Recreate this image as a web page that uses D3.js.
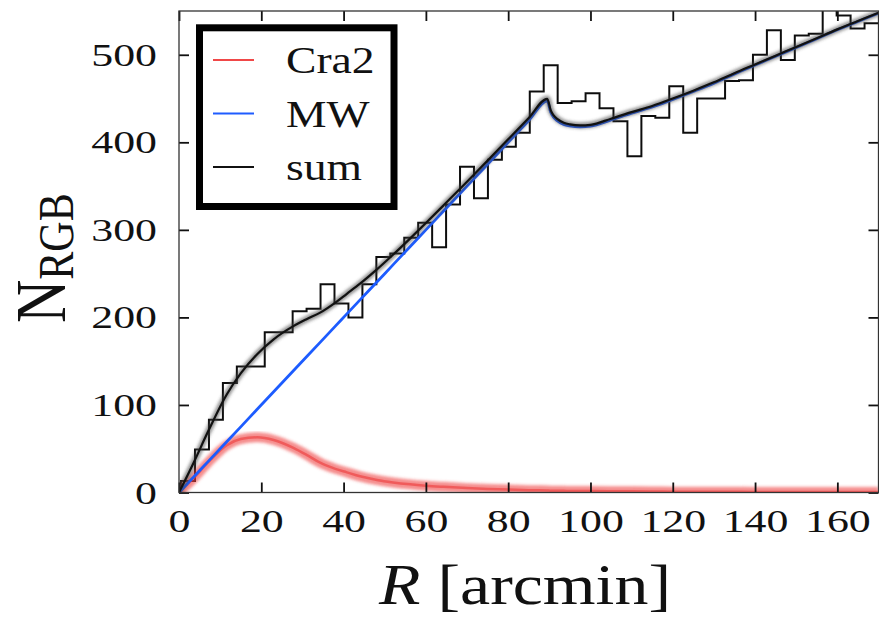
<!DOCTYPE html>
<html>
<head>
<meta charset="utf-8">
<script src="https://cdn.jsdelivr.net/npm/d3@7"></script>
<style>
  body { margin: 0; background: #fff; }
  svg { display: block; }
  text { font-family: "Liberation Serif", "Times New Roman", serif; fill: #111; }
</style>
</head>
<body>
<svg id="chart" width="879" height="620"></svg>
<script>
// Radial counts of RGB candidates: histogram plus model components
const binStart = 0.5;
const binWidth = 3.39;
const histCounts = [
  13, 49, 83, 125, 144, 144, 183, 183, 207, 210,
  238, 216, 200, 238, 269, 273, 291, 308, 280, 329,
  372, 336, 380, 395, 411, 458, 488, 445, 447, 456,
  439, 424, 384, 430, 428, 464, 411, 450, 450, 470,
  471, 500, 528, 494, 522, 524, 565, 545, 530, 536
];

// Model curves sampled in radius (arcmin)
const radius = [
  0, 3.5, 7, 11.6, 15, 19, 23, 27.8, 31, 34.3,
  38, 40.8, 44, 48.1, 52, 56.2, 60, 64.3, 70, 75,
  80, 85, 89.5, 90.3, 91, 92, 93.5, 95, 97.5, 100,
  105, 110, 115, 120, 125, 130, 135, 140, 145, 150,
  155, 160, 165, 170
];
const mwModel = [
  0, 17.5, 35, 58, 75, 95, 115, 139, 155, 171.5,
  190, 204, 220, 240.5, 260, 281, 300, 321.5, 350, 375,
  400, 425, 447.5, 435, 429, 424.5, 420.5, 418.7, 417.6, 418.4,
  425.6, 433.2, 440.3, 449, 458.1, 467.6, 478.2, 488.3, 498.3, 508.4,
  518.4, 528.5, 538, 547.5
];
const cra2Model = [
  0, 16, 34, 54, 61, 63, 60, 51, 43, 34,
  27, 23, 18.5, 14.3, 11.5, 9.3, 7.8, 6.5, 5, 4.1,
  3.4, 2.7, 2.2, 2.1, 2.1, 2, 1.9, 1.8, 1.7, 1.6,
  1.4, 1.3, 1.2, 1, 0.9, 0.9, 0.8, 0.7, 0.7, 0.6,
  0.6, 0.5, 0.5, 0.5
];
const sumModel = mwModel.map((v, i) => v + cra2Model[i]);

const xTicks = [0, 20, 40, 60, 80, 100, 120, 140, 160];
const yTicks = [0, 100, 200, 300, 400, 500];
const legendLabels = ["Cra2", "MW", "sum"];
const legendColors = ["#f04848", "#1f5cff", "#111111"];

const svg = d3.select("#chart");
const plot = { left: 179, right: 878.5, top: 11, bottom: 492.5 };

const x = d3.scaleLinear().domain([0, 170]).range([plot.left, plot.right]);
const y = d3.scaleLinear().domain([0, 550]).range([plot.bottom, plot.top]);

const defs = svg.append("defs");
defs.append("clipPath").attr("id", "plot-clip")
  .append("rect")
  .attr("x", plot.left).attr("y", plot.top)
  .attr("width", plot.right - plot.left).attr("height", plot.bottom - plot.top);
defs.append("filter").attr("id", "soft").attr("x", "-10%").attr("y", "-10%")
  .attr("width", "120%").attr("height", "120%")
  .append("feGaussianBlur").attr("stdDeviation", 1.5);
defs.append("filter").attr("id", "softer")
  .append("feGaussianBlur").attr("stdDeviation", 0.6);

const body = svg.append("g").attr("clip-path", "url(#plot-clip)");

// histogram as a step outline
const histPts = [[binStart, 0]];
histCounts.forEach((c, i) => histPts.push([binStart + i * binWidth, c]));
histPts.push([binStart + histCounts.length * binWidth, histCounts[histCounts.length - 1]]);
const stepLine = d3.line().x(d => x(d[0])).y(d => y(d[1])).curve(d3.curveStepAfter);
body.append("path")
  .attr("d", stepLine(histPts))
  .attr("fill", "none").attr("stroke", "#111").attr("stroke-width", 2)
  .attr("filter", "url(#softer)");

const curve = vals => d3.line()
  .x((d, i) => x(radius[i]))
  .y(d => y(d))
  .curve(d3.curveMonotoneX)(vals);

// Cra2 component with its uncertainty band
body.append("path").attr("d", curve(cra2Model))
  .attr("fill", "none").attr("stroke", "#ee4040").attr("stroke-opacity", 0.6)
  .attr("stroke-width", 10).attr("filter", "url(#soft)");
body.append("path").attr("d", curve(cra2Model))
  .attr("fill", "none").attr("stroke", "#ec3a3a").attr("stroke-opacity", 0.6)
  .attr("stroke-width", 2.5);

// Milky Way foreground
body.append("path").attr("d", curve(mwModel))
  .attr("fill", "none").attr("stroke", "#1f5cff").attr("stroke-width", 2.8)
  .attr("filter", "url(#softer)");

// total model with band
body.append("path").attr("d", curve(sumModel))
  .attr("fill", "none").attr("stroke", "#444").attr("stroke-opacity", 0.55)
  .attr("stroke-width", 6.5).attr("filter", "url(#soft)");
body.append("path").attr("d", curve(sumModel))
  .attr("fill", "none").attr("stroke", "#111").attr("stroke-width", 2.2);

// ticks on all four sides, pointing inward
const tickStyle = g => {
  g.select(".domain").remove();
  g.selectAll(".tick line").attr("stroke", "#111").attr("stroke-width", 1.8);
};
const tickScale = 1.37;

svg.append("g").attr("transform", `translate(0,${plot.bottom})`)
  .call(d3.axisBottom(x).tickValues(xTicks).tickSizeInner(-10).tickSizeOuter(0))
  .call(tickStyle)
  .call(g => g.selectAll(".tick text")
    .attr("y", 0).attr("dy", null)
    .attr("transform", `translate(0,39) scale(${tickScale},1)`)
    .attr("font-size", 32).attr("fill", "#111"));

svg.append("g").attr("transform", `translate(0,${plot.top})`)
  .call(d3.axisTop(x).tickValues(xTicks).tickSizeInner(-10).tickSizeOuter(0).tickFormat(""))
  .call(tickStyle);

svg.append("g").attr("transform", `translate(${plot.left},0)`)
  .call(d3.axisLeft(y).tickValues(yTicks).tickSizeInner(-10).tickSizeOuter(0))
  .call(tickStyle)
  .call(g => g.selectAll(".tick text")
    .attr("x", 0).attr("dy", "0.33em")
    .attr("transform", `translate(-22,0) scale(${tickScale},1)`)
    .attr("font-size", 32).attr("fill", "#111"));

svg.append("g").attr("transform", `translate(${plot.right},0)`)
  .call(d3.axisRight(y).tickValues(yTicks).tickSizeInner(-10).tickSizeOuter(0).tickFormat(""))
  .call(tickStyle);

// frame
svg.append("rect")
  .attr("x", plot.left).attr("y", plot.top)
  .attr("width", plot.right - plot.left).attr("height", plot.bottom - plot.top)
  .attr("fill", "none").attr("stroke", "#333").attr("stroke-width", 1.3);

// axis titles
const xTitle = svg.append("text")
  .attr("transform", `translate(525,604) scale(1.17,1)`)
  .attr("text-anchor", "middle").attr("font-size", 58);
xTitle.append("tspan").attr("font-style", "italic").text("R");
xTitle.append("tspan").text(" [arcmin]");

const yTitle = svg.append("text")
  .attr("transform", `translate(65,323) scale(1.2,1) rotate(-90)`)
  .attr("font-size", 60);
yTitle.append("tspan").text("N");
yTitle.append("tspan").attr("font-size", 42).attr("dy", 7).text("RGB");

// legend
const legend = svg.append("g");
legend.append("rect")
  .attr("x", 199.5).attr("y", 27.8).attr("width", 194.5).attr("height", 178.7)
  .attr("fill", "#fff").attr("stroke", "#000").attr("stroke-width", 7);
legendLabels.forEach((name, i) => {
  const cy = 60 + i * 53.5;
  legend.append("line")
    .attr("x1", 213).attr("x2", 254).attr("y1", cy).attr("y2", cy)
    .attr("stroke", legendColors[i]).attr("stroke-width", 2);
  legend.append("text")
    .attr("transform", `translate(286,${cy + 13}) scale(1.2,1)`)
    .attr("font-size", 38).text(name);
});
</script>
</body>
</html>
